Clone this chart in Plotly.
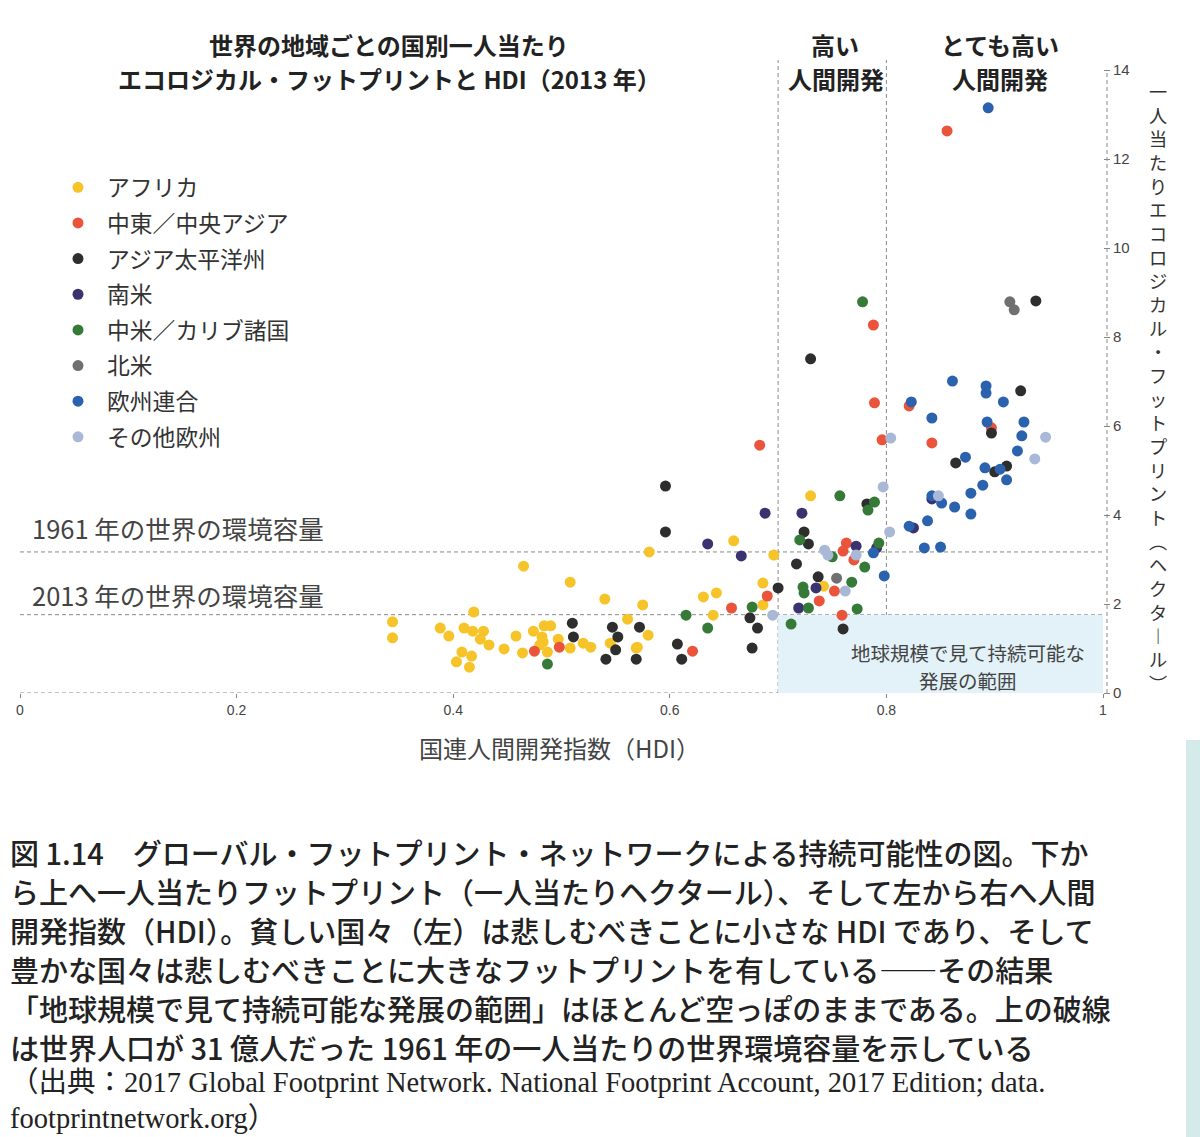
import plotly.graph_objects as go

# ---------------- data (HDI, ecological footprint gha/person) ----------------
africa_hdi = [0.344, 0.344, 0.419, 0.388, 0.410, 0.418, 0.428, 0.425, 0.396, 0.433, 0.408, 0.417,
              0.403, 0.415, 0.447, 0.458, 0.464, 0.474, 0.484, 0.490, 0.482, 0.483, 0.487, 0.497,
              0.508, 0.520, 0.527, 0.465, 0.508, 0.540, 0.561, 0.569, 0.575, 0.580, 0.570, 0.545,
              0.581, 0.631, 0.643, 0.640, 0.659, 0.686, 0.686, 0.696, 0.730, 0.742, 0.480]
africa_ef = [1.60, 1.24, 1.82, 1.46, 1.46, 1.39, 1.39, 1.21, 1.28, 1.08, 0.92, 0.83,
             0.70, 0.58, 0.99, 1.28, 0.90, 1.39, 1.51, 1.51, 1.26, 1.15, 0.92, 1.21,
             1.01, 1.12, 1.03, 2.85, 2.49, 2.11, 1.66, 1.01, 1.98, 1.30, 1.03, 1.12,
             3.17, 2.16, 2.25, 1.75, 3.42, 2.47, 1.98, 3.10, 4.43, 2.40, 1.08]

mideast_hdi = [0.475, 0.498, 0.621, 0.657, 0.690, 0.683, 0.738, 0.752, 0.759, 0.763, 0.760,
               0.770, 0.788, 0.789, 0.796, 0.821, 0.842, 0.897, 0.856]
mideast_ef = [0.94, 1.03, 0.94, 1.91, 2.18, 5.57, 2.07, 2.29, 1.75, 3.37, 3.19,
              2.99, 8.27, 6.52, 5.69, 6.45, 5.62, 5.96, 12.63]

asiapac_hdi = [0.510, 0.511, 0.547, 0.552, 0.550, 0.541, 0.569, 0.572, 0.596, 0.596, 0.607, 0.611,
               0.674, 0.681, 0.676, 0.700, 0.717, 0.724, 0.728, 0.737, 0.730, 0.760, 0.782,
               0.864, 0.900, 0.911, 0.897, 0.924, 0.938]
asiapac_ef = [1.57, 1.26, 1.48, 1.26, 0.97, 0.76, 0.76, 1.48, 4.65, 3.62, 1.10, 0.76,
              1.69, 1.46, 1.01, 2.36, 2.90, 3.62, 3.35, 2.61, 7.51, 1.44, 4.25,
              5.17, 4.97, 5.10, 5.84, 6.79, 8.81]

samerica_hdi = [0.635, 0.666, 0.688, 0.722, 0.772, 0.791, 0.735, 0.719, 0.842, 0.825]
samerica_ef = [3.35, 3.08, 4.04, 4.04, 3.30, 3.26, 2.36, 1.91, 4.36, 3.71]

camerica_hdi = [0.487, 0.615, 0.635, 0.676, 0.712, 0.720, 0.723, 0.724, 0.728, 0.750, 0.757,
                0.768, 0.773, 0.780, 0.783, 0.789, 0.793, 0.778]
camerica_ef = [0.65, 1.75, 1.46, 1.93, 1.55, 3.44, 2.38, 2.25, 1.91, 3.06, 4.43,
               2.49, 1.89, 2.83, 4.11, 4.29, 3.37, 8.79]

namerica_hdi = [0.754, 0.914, 0.918]
namerica_ef = [2.58, 8.79, 8.61]

eu_hdi = [0.894, 0.861, 0.892, 0.892, 0.823, 0.908, 0.842, 0.893, 0.927, 0.925, 0.921, 0.873,
          0.891, 0.905, 0.911, 0.889, 0.878, 0.842, 0.851, 0.863, 0.878, 0.838, 0.821, 0.835,
          0.850, 0.788, 0.798]
eu_ef = [13.15, 7.01, 6.90, 6.74, 6.54, 6.54, 6.18, 6.09, 6.09, 5.78, 5.44, 5.30,
         5.06, 5.03, 4.79, 4.67, 4.49, 4.43, 4.27, 4.18, 4.02, 3.87, 3.75, 3.26,
         3.28, 3.15, 2.63]

oeurope_hdi = [0.695, 0.743, 0.746, 0.762, 0.772, 0.797, 0.803, 0.804, 0.848, 0.937, 0.947]
oeurope_ef = [1.75, 3.21, 3.10, 2.29, 3.10, 4.63, 3.62, 5.73, 4.43, 5.26, 5.75]

region_names = ["アフリカ", "中東／中央アジア", "アジア太平洋州", "南米",
                "中米／カリブ諸国", "北米", "欧州連合", "その他欧州"]
region_colors = ["#f6c428", "#e9543a", "#2e2e2e", "#3b3370",
                 "#367a38", "#707070", "#2a62ad", "#a8b8d6"]
region_x = [africa_hdi, mideast_hdi, asiapac_hdi, samerica_hdi,
            camerica_hdi, namerica_hdi, eu_hdi, oeurope_hdi]
region_y = [africa_ef, mideast_ef, asiapac_ef, samerica_ef,
            camerica_ef, namerica_ef, eu_ef, oeurope_ef]

biocap_1961 = 3.17
biocap_2013 = 1.76
hdi_high = 0.7
hdi_very_high = 0.8

x_ticks = [0, 0.2, 0.4, 0.6, 0.8, 1]
x_ticktext = ["0", "0.2", "0.4", "0.6", "0.8", "1"]
y_ticks = [0, 2, 4, 6, 8, 10, 12, 14]

y_title = "一人当たりエコロジカル・フットプリント︵ヘクタ︱ル︶"

caption_lines = [
    "図 1.14　グローバル・フットプリント・ネットワークによる持続可能性の図。下か",
    "ら上へ一人当たりフットプリント（一人当たりヘクタール）、そして左から右へ人間",
    "開発指数（HDI）。貧しい国々（左）は悲しむべきことに小さな HDI であり、そして",
    "豊かな国々は悲しむべきことに大きなフットプリントを有している――その結果",
    "「地球規模で見て持続可能な発展の範囲」はほとんど空っぽのままである。上の破線",
    "は世界人口が 31 億人だった 1961 年の一人当たりの世界環境容量を示している",
]
source_lines = [
    "（出典：2017 Global Footprint Network. National Footprint Account, 2017 Edition; data.",
    "footprintnetwork.org）",
]

# ---------------- layout helpers ----------------
W, H = 1200, 1137
L, R, T, B = 20, 1103, 70, 693


def px(x):
    return (x - L) / (R - L)


def py(y):
    return (B - y) / (B - T)


JP = "Noto Sans CJK JP"
TXT = "#333333"

fig = go.Figure()
for name, col, xs, ys in zip(region_names, region_colors, region_x, region_y):
    fig.add_trace(go.Scatter(
        x=xs, y=ys, mode="markers", name=name, legendgroup=name,
        marker=dict(size=11, color=col, line=dict(width=0)),
    ))

shapes = []
shapes.append(dict(type="rect", xref="x", yref="y", x0=hdi_high, x1=1, y0=0, y1=biocap_2013,
                   fillcolor="#e2f2f8", line=dict(width=0), layer="below"))
dash = dict(color="#8a8a8a", width=1, dash="4px,3px")
for xv in [hdi_high, hdi_very_high]:
    shapes.append(dict(type="line", xref="x", yref="paper", x0=xv, x1=xv, y0=0, y1=py(60),
                       line=dash, layer="below"))
for yv in [biocap_1961, biocap_2013]:
    shapes.append(dict(type="line", xref="paper", yref="y", x0=0, x1=1, y0=yv, y1=yv,
                       line=dash, layer="below"))
shapes.append(dict(type="line", xref="paper", yref="y", x0=0, x1=1, y0=0, y1=0, line=dash, layer="below"))
shapes.append(dict(type="line", xref="paper", yref="y", x0=px(1107), x1=px(1107), y0=0, y1=14,
                   line=dash, layer="below"))
# scanned page edge tint
shapes.append(dict(type="rect", xref="paper", yref="paper", x0=px(1186), x1=px(1200),
                   y0=py(1137), y1=py(740), fillcolor="#d5ebea", line=dict(width=0), layer="below"))

ann = []


def add_text(text, x, y, size, color=TXT, xanchor="center", family=JP, weight=None, align="center"):
    f = dict(family=family, size=size, color=color)
    if weight:
        f["weight"] = weight
    ann.append(dict(text=text, x=px(x), y=py(y), xref="paper", yref="paper",
                    xanchor=xanchor, yanchor="middle", showarrow=False, font=f, align=align))


add_text("<b>世界の地域ごとの国別一人当たり</b>", 389, 44, 24, "#222222")
add_text("<b>エコロジカル・フットプリントと HDI（2013 年）</b>", 389, 78, 24, "#222222")
add_text("<b>高い</b>", 835, 44, 24, "#222222")
add_text("<b>人間開発</b>", 836, 78, 24, "#222222")
add_text("<b>とても高い</b>", 1000, 44, 24, "#222222")
add_text("<b>人間開発</b>", 1000, 78, 24, "#222222")

add_text("1961 年の世界の環境容量", 30, 527, 25.5, "#444444", xanchor="left")
add_text("2013 年の世界の環境容量", 30, 594, 25.5, "#444444", xanchor="left")

add_text("地球規模で見て持続可能な", 968, 652, 19.5, "#444444")
add_text("発展の範囲", 968, 680, 19.5, "#444444")

add_text("国連人間開発指数（HDI）", 559, 748, 24, "#444444")

# vertical (upright) axis title as one stacked text block
add_text("<br>".join(list(y_title)), 1158, 387, 18.2, "#333333")

# caption
cap_y = [852, 891, 930, 969, 1008, 1047]
for t, yy in zip(caption_lines, cap_y):
    add_text(t, 8, yy, 29, "#222222", xanchor="left", weight=500, align="left")
src_y = [1082, 1118]
for t, yy in zip(source_lines, src_y):
    add_text(t, 8, yy, 28.5, "#222222", xanchor="left", family="Liberation Serif, " + JP, align="left")

fig.update_layout(
    width=W, height=H,
    margin=dict(l=L, r=W - R, t=T, b=H - B, pad=0),
    paper_bgcolor="white", plot_bgcolor="rgba(0,0,0,0)",
    shapes=shapes, annotations=ann,
    showlegend=True,
    legend=dict(x=px(49), y=py(166), xanchor="left", yanchor="top",
                font=dict(family=JP, size=22.8, color=TXT),
                itemwidth=48, tracegroupgap=3, traceorder="grouped",
                bgcolor="rgba(0,0,0,0)", borderwidth=0),
    xaxis=dict(range=[0, 1], tickvals=x_ticks, ticktext=x_ticktext, showgrid=False,
               zeroline=False, showline=False, ticks="outside", ticklen=4, tickcolor="#888",
               tickfont=dict(family="Liberation Sans", size=14, color="#444")),
    yaxis=dict(range=[0, 14], tickvals=y_ticks, side="right", showgrid=False, zeroline=False,
               showline=False, ticks="outside", ticklen=6, tickcolor="#888",
               tickfont=dict(family="Liberation Sans", size=15, color="#444")),
)

fig.write_html("out.html")
